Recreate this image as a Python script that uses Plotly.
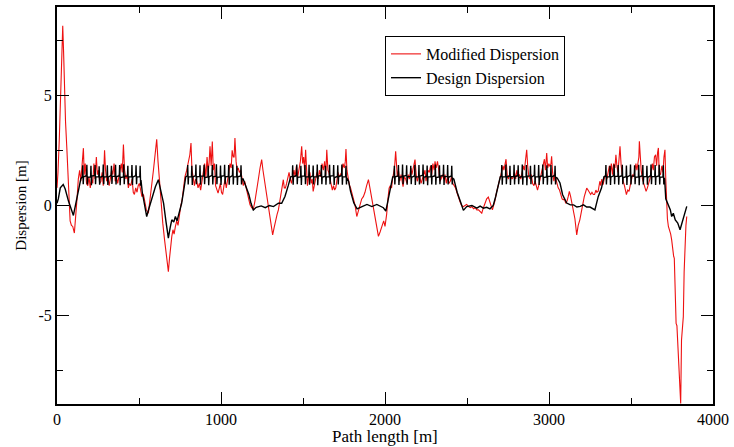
import plotly.graph_objects as go

# ---------------- Data ----------------
# Design dispersion (black), by lattice section
design_straight_a_s = [0, 8, 20, 38, 50, 70, 100, 115, 131, 145]
design_straight_a_d = [0.1, 0.3, 0.8, 0.95, 0.75, 0.2, -0.45, 0.1, 0.65, 1.2]

design_arc1_s = [155, 157, 160, 162, 180, 182, 185, 187, 205, 207, 210, 212, 230, 232, 235, 237,
                 255, 257, 260, 262, 280, 282, 285, 287, 305, 307, 310, 312, 330, 332, 335, 337,
                 355, 357, 360, 362, 380, 382, 385, 387, 405, 407, 410, 412, 430, 432, 435, 437,
                 455, 457, 460, 462, 480, 482, 485, 487, 505, 507, 510, 512]
design_arc1_d = [1.32, 1.82, 0.96, 1.30, 1.35, 1.85, 0.95, 1.28, 1.30, 1.80, 0.92, 1.33, 1.36, 1.84, 0.97, 1.30,
                 1.31, 1.78, 0.94, 1.27, 1.34, 1.86, 0.96, 1.30, 1.30, 1.82, 0.93, 1.28, 1.37, 1.80, 0.98, 1.32,
                 1.33, 1.85, 0.95, 1.30, 1.35, 1.83, 0.92, 1.27, 1.30, 1.87, 0.96, 1.33, 1.34, 1.80, 0.95, 1.30,
                 1.31, 1.84, 0.93, 1.28, 1.36, 1.82, 0.97, 1.30, 1.30, 1.80, 0.90, 1.15]

design_straight_b_s = [520, 535, 547, 560, 580, 600, 618, 632, 650, 665, 679, 690, 700, 712, 722, 732, 745, 760, 775, 785]
design_straight_b_d = [0.6, 0.0, -0.5, -0.15, 0.4, 0.85, 1.17, 0.7, 0.1, -0.75, -1.48, -1.0, -0.65, -0.75, -0.5, -0.7, -0.3, 0.1, 0.8, 1.3]

design_arc2_s = [795, 797, 800, 802, 820, 822, 825, 827, 845, 847, 850, 852, 870, 872, 875, 877,
                 895, 897, 900, 902, 920, 922, 925, 927, 945, 947, 950, 952, 970, 972, 975, 977,
                 995, 997, 1000, 1002, 1020, 1022, 1025, 1027, 1045, 1047, 1050, 1052, 1070, 1072, 1075, 1077,
                 1095, 1097, 1100, 1102, 1120, 1122, 1125, 1127]
design_arc2_d = [1.35, 1.84, 0.95, 1.30, 1.31, 1.80, 0.93, 1.28, 1.36, 1.86, 0.96, 1.30, 1.32, 1.82, 0.94, 1.33,
                 1.34, 1.85, 0.97, 1.27, 1.30, 1.80, 0.92, 1.30, 1.37, 1.84, 0.95, 1.30, 1.33, 1.87, 0.96, 1.28,
                 1.30, 1.81, 0.93, 1.32, 1.35, 1.85, 0.96, 1.30, 1.32, 1.83, 0.94, 1.27, 1.36, 1.86, 0.95, 1.30,
                 1.31, 1.80, 0.93, 1.30, 1.34, 1.82, 0.95, 1.20]

design_straight_c_s = [1135, 1150, 1170, 1183, 1197, 1215, 1245, 1270, 1295, 1320, 1350, 1370, 1390, 1410, 1425]
design_straight_c_d = [1.2, 0.87, 0.5, 0.1, -0.2, -0.08, -0.02, -0.1, 0.0, -0.05, 0.1, 0.1, 0.41, 0.9, 1.3]

design_arc3_s = [1435, 1437, 1440, 1442, 1460, 1462, 1465, 1467, 1485, 1487, 1490, 1492, 1510, 1512, 1515, 1517,
                 1535, 1537, 1540, 1542, 1560, 1562, 1565, 1567, 1585, 1587, 1590, 1592, 1610, 1612, 1615, 1617,
                 1635, 1637, 1640, 1642, 1660, 1662, 1665, 1667, 1685, 1687, 1690, 1692, 1710, 1712, 1715, 1717,
                 1735, 1737, 1740, 1742, 1760, 1762, 1765, 1767]
design_arc3_d = [1.32, 1.82, 0.94, 1.30, 1.36, 1.86, 0.96, 1.28, 1.30, 1.80, 0.93, 1.33, 1.34, 1.84, 0.97, 1.30,
                 1.31, 1.85, 0.94, 1.27, 1.35, 1.81, 0.95, 1.30, 1.30, 1.86, 0.92, 1.32, 1.37, 1.83, 0.96, 1.28,
                 1.33, 1.80, 0.94, 1.30, 1.30, 1.85, 0.97, 1.33, 1.35, 1.84, 0.93, 1.27, 1.32, 1.82, 0.95, 1.30,
                 1.36, 1.86, 0.94, 1.30, 1.31, 1.80, 0.95, 1.25]

design_straight_d_s = [1778, 1790, 1810, 1830, 1860, 1890, 1920, 1950, 1990, 2005, 2015, 2035, 2047]
design_straight_d_d = [1.1, 0.64, 0.11, -0.15, -0.05, 0.05, -0.05, 0.05, -0.1, -0.25, 0.11, 0.87, 1.3]

design_arc4_s = [2055, 2057, 2060, 2062, 2080, 2082, 2085, 2087, 2105, 2107, 2110, 2112, 2130, 2132, 2135, 2137,
                 2155, 2157, 2160, 2162, 2180, 2182, 2185, 2187, 2205, 2207, 2210, 2212, 2230, 2232, 2235, 2237,
                 2255, 2257, 2260, 2262, 2280, 2282, 2285, 2287, 2305, 2307, 2310, 2312, 2330, 2332, 2335, 2337,
                 2355, 2357, 2360, 2362, 2380, 2382, 2385, 2387, 2405, 2407, 2410, 2412]
design_arc4_d = [1.30, 1.80, 0.95, 1.30, 1.34, 1.84, 0.93, 1.28, 1.31, 1.86, 0.96, 1.32, 1.36, 1.82, 0.94, 1.30,
                 1.32, 1.80, 0.97, 1.27, 1.35, 1.85, 0.93, 1.30, 1.30, 1.83, 0.95, 1.33, 1.37, 1.86, 0.96, 1.28,
                 1.33, 1.81, 0.92, 1.30, 1.31, 1.84, 0.95, 1.30, 1.35, 1.86, 0.94, 1.27, 1.30, 1.82, 0.96, 1.32,
                 1.36, 1.85, 0.93, 1.30, 1.32, 1.83, 0.95, 1.28, 1.34, 1.80, 0.95, 1.25]

design_straight_e_s = [2420, 2440, 2463, 2478, 2498, 2530, 2560, 2580, 2600, 2620, 2640, 2660, 2675, 2690, 2703]
design_straight_e_d = [1.2, 0.6, 0.11, -0.22, -0.05, 0.0, -0.12, -0.03, -0.12, -0.08, -0.15, 0.0, 0.41, 0.87, 1.3]

design_arc5_s = [2710, 2712, 2715, 2717, 2735, 2737, 2740, 2742, 2760, 2762, 2765, 2767, 2785, 2787, 2790, 2792,
                 2810, 2812, 2815, 2817, 2835, 2837, 2840, 2842, 2860, 2862, 2865, 2867, 2885, 2887, 2890, 2892,
                 2910, 2912, 2915, 2917, 2935, 2937, 2940, 2942, 2960, 2962, 2965, 2967, 2985, 2987, 2990, 2992,
                 3010, 3012, 3015, 3017, 3035, 3037, 3040, 3042]
design_arc5_d = [1.33, 1.83, 0.94, 1.30, 1.30, 1.86, 0.96, 1.28, 1.35, 1.80, 0.93, 1.32, 1.31, 1.85, 0.95, 1.30,
                 1.36, 1.82, 0.97, 1.27, 1.32, 1.86, 0.94, 1.30, 1.30, 1.84, 0.92, 1.33, 1.34, 1.80, 0.96, 1.28,
                 1.37, 1.85, 0.95, 1.30, 1.31, 1.83, 0.93, 1.30, 1.35, 1.86, 0.96, 1.27, 1.30, 1.82, 0.94, 1.32,
                 1.33, 1.84, 0.95, 1.30, 1.36, 1.80, 0.95, 1.28]

design_straight_f_s = [3050, 3067, 3083, 3108, 3130, 3150, 3170, 3190, 3210, 3230, 3250, 3280, 3300, 3320, 3335]
design_straight_f_d = [1.25, 1.02, 0.49, 0.11, 0.03, 0.03, -0.07, -0.04, 0.03, -0.07, -0.07, -0.2, 0.4, 0.79, 1.3]

design_arc6_s = [3345, 3347, 3350, 3352, 3370, 3372, 3375, 3377, 3395, 3397, 3400, 3402, 3420, 3422, 3425, 3427,
                 3445, 3447, 3450, 3452, 3470, 3472, 3475, 3477, 3495, 3497, 3500, 3502, 3520, 3522, 3525, 3527,
                 3545, 3547, 3550, 3552, 3570, 3572, 3575, 3577, 3595, 3597, 3600, 3602, 3620, 3622, 3625, 3627,
                 3645, 3647, 3650, 3652, 3670, 3672, 3675, 3677, 3695, 3697, 3700, 3702]
design_arc6_d = [1.34, 1.84, 0.95, 1.30, 1.30, 1.80, 0.93, 1.28, 1.36, 1.86, 0.96, 1.32, 1.32, 1.83, 0.94, 1.30,
                 1.35, 1.85, 0.97, 1.27, 1.31, 1.81, 0.93, 1.30, 1.37, 1.86, 0.95, 1.33, 1.33, 1.82, 0.96, 1.28,
                 1.30, 1.85, 0.92, 1.30, 1.35, 1.84, 0.95, 1.30, 1.32, 1.80, 0.94, 1.27, 1.36, 1.86, 0.96, 1.32,
                 1.31, 1.83, 0.93, 1.30, 1.34, 1.85, 0.95, 1.28, 1.30, 1.82, 0.95, 1.25]

design_straight_g_s = [3705, 3712, 3725, 3740, 3748, 3758, 3770, 3785, 3799, 3810, 3825, 3840]
design_straight_g_d = [1.2, 0.3, 0.1, -0.2, -0.5, -0.35, -0.65, -0.8, -1.1, -0.8, -0.4, -0.04]

# Modified dispersion (red)
modified_s = [
    0, 6, 14, 22, 30, 35, 40, 45, 52, 60,
    66, 72, 80, 88, 96, 106, 114, 122, 130, 138,
    145, 152, 161, 166, 172, 180, 188, 195, 203, 210,
    218, 225, 232, 240, 246, 253, 260, 268, 275, 282,
    290, 296, 303, 310, 318, 325, 333, 340, 348, 355,
    362, 370, 378, 385, 392, 398, 405, 412, 420, 428,
    435, 442, 450, 458, 465, 472, 480, 488, 495, 502,
    510, 518, 527, 535, 545, 557, 567, 578, 588, 598,
    608, 616, 625, 635, 645, 655, 665, 672, 679, 686,
    693, 700, 707, 714, 722, 730, 738, 746, 755, 763,
    772, 780, 791, 800, 810, 817, 823, 830, 838, 845,
    852, 860, 868, 876, 884, 892, 900, 908, 915, 922,
    928, 933, 940, 947, 953, 960, 967, 975, 982, 990,
    996, 1003, 1010, 1018, 1025, 1032, 1040, 1048, 1055, 1062,
    1068, 1075, 1080, 1085, 1092, 1098, 1105, 1112, 1120, 1128,
    1136, 1144, 1152, 1160, 1168, 1177, 1187, 1197, 1207, 1217,
    1228, 1238, 1248, 1256, 1264, 1272, 1280, 1288, 1297, 1306,
    1315, 1324, 1333, 1342, 1350, 1358, 1366, 1374, 1380, 1386,
    1393, 1400, 1408, 1415, 1422, 1430, 1437, 1445, 1452, 1460,
    1468, 1476, 1484, 1492, 1498, 1504, 1510, 1516, 1522, 1527,
    1534, 1542, 1550, 1556, 1562, 1570, 1578, 1585, 1592, 1600,
    1608, 1616, 1624, 1632, 1639, 1645, 1652, 1658, 1665, 1672,
    1679, 1686, 1693, 1700, 1708, 1714, 1720, 1728, 1736, 1744,
    1752, 1758, 1762, 1768, 1775, 1782, 1790, 1800, 1810, 1817,
    1828, 1838, 1848, 1858, 1868, 1878, 1888, 1899, 1908, 1918,
    1928, 1938, 1948, 1960, 1970, 1982, 1992, 2000, 2010, 2018,
    2025, 2032, 2040, 2046, 2052, 2058, 2065, 2070, 2075, 2082,
    2090, 2098, 2104, 2110, 2118, 2126, 2134, 2142, 2150, 2158,
    2164, 2170, 2176, 2183, 2190, 2197, 2204, 2212, 2220, 2228,
    2236, 2244, 2250, 2256, 2262, 2270, 2278, 2285, 2292, 2300,
    2305, 2312, 2320, 2328, 2335, 2342, 2350, 2358, 2366, 2374,
    2382, 2390, 2398, 2406, 2414, 2422, 2430, 2438, 2446, 2457,
    2467, 2478, 2488, 2498, 2510, 2520, 2530, 2540, 2550, 2560,
    2570, 2580, 2590, 2600, 2610, 2620, 2630, 2640, 2648, 2655,
    2662, 2670, 2680, 2690, 2700, 2712, 2720, 2725, 2732, 2738,
    2745, 2752, 2760, 2768, 2775, 2782, 2790, 2797, 2804, 2812,
    2820, 2828, 2836, 2844, 2850, 2857, 2864, 2870, 2877, 2885,
    2892, 2900, 2908, 2915, 2922, 2930, 2937, 2945, 2952, 2960,
    2966, 2972, 2978, 2986, 2992, 2999, 3006, 3012, 3016, 3022,
    3030, 3036, 3042, 3048, 3056, 3064, 3072, 3080, 3087, 3094,
    3102, 3110, 3117, 3124, 3132, 3140, 3148, 3158, 3169, 3178,
    3188, 3198, 3207, 3215, 3223, 3230, 3238, 3246, 3254, 3262,
    3270, 3278, 3286, 3292, 3300, 3310, 3316, 3322, 3330, 3338,
    3346, 3353, 3360, 3368, 3374, 3380, 3387, 3394, 3402, 3408,
    3414, 3420, 3427, 3433, 3440, 3446, 3452, 3460, 3466, 3472,
    3480, 3488, 3495, 3502, 3510, 3517, 3524, 3530, 3536, 3543,
    3548, 3551, 3556, 3562, 3570, 3578, 3585, 3592, 3600, 3608,
    3615, 3622, 3630, 3636, 3643, 3650, 3656, 3662, 3667, 3672,
    3680, 3688, 3695, 3701, 3707, 3712, 3716, 3722, 3728, 3735,
    3742, 3748, 3752, 3756, 3760, 3764, 3769, 3775, 3780, 3786,
    3792, 3796, 3803, 3808, 3812, 3819, 3824, 3829, 3835, 3840,
]
modified_d = [
    0.8, 1.5, 3.0, 5.5, 7.6, 8.15, 7.0, 5.2, 3.8, 2.6,
    1.5, 0.2, -0.7, -0.9, -0.95, -1.25, -0.6, 0.3, 1.2, 1.6,
    1.1, 1.8, 2.6, 1.4, 1.9, 1.0, 0.9, 1.3, 0.8, 1.2,
    1.0, 1.9, 1.2, 2.2, 1.4, 1.6, 1.0, 1.1, 1.5, 0.9,
    2.5, 1.6, 1.1, 1.3, 0.9, 1.2, 1.6, 1.4, 1.9, 1.1,
    1.3, 1.0, 1.4, 1.7, 1.9, 1.5, 2.76, 1.6, 1.2, 1.4,
    0.8, 1.0, 0.9, 1.2, 0.6, 0.5, 0.8, 0.6, 0.9, 1.0,
    0.7, 0.4, 0.5, 0.1, -0.2, -0.35, 0.2, 0.8, 1.6, 2.3,
    3.0, 2.0, 1.0, 0.0, -0.8, -1.5, -2.2, -2.6, -3.0, -2.4,
    -1.8, -1.4, -1.1, -1.3, -0.95, -0.7, -0.9, -0.4, 0.0, 0.26,
    0.9, 1.3, 1.6, 2.0, 2.3, 2.83, 1.6, 1.3, 0.9, 1.2,
    1.1, 0.8, 1.0, 0.7, 1.2, 1.5, 1.9, 1.3, 2.2, 1.5,
    2.0, 2.68, 1.8, 2.9, 1.6, 1.9, 0.9, 0.7, 0.56, 0.8,
    1.0, 0.6, 0.5, 0.9, 1.2, 0.8, 1.1, 1.5, 1.9, 1.7,
    2.5, 2.2, 2.2, 3.06, 2.0, 1.6, 1.7, 1.5, 1.6, 1.2,
    0.9, 1.1, 0.8, 0.5, 0.2, 0.03, -0.1, -0.17, 0.2, 0.6,
    1.2, 1.7, 2.08, 1.6, 1.2, 0.9, 0.5, 0.03, -0.4, -0.9,
    -1.33, -1.0, -0.6, -0.4, -0.2, 0.2, 0.6, 0.9, 1.17, 0.8,
    0.8, 1.0, 1.3, 1.5, 1.2, 1.0, 1.3, 1.6, 1.3, 1.8,
    1.3, 1.6, 2.0, 2.68, 1.9, 2.2, 1.6, 2.53, 1.6, 0.9,
    1.3, 1.5, 1.0, 1.2, 0.64, 1.0, 1.3, 1.5, 1.2, 1.6,
    1.3, 1.9, 1.6, 2.0, 1.4, 2.53, 1.6, 1.5, 1.2, 0.9,
    0.7, 0.9, 0.7, 0.8, 1.1, 1.5, 1.3, 1.4, 1.5, 1.9,
    1.7, 2.0, 2.56, 1.6, 1.2, 0.95, 0.8, 0.5, 0.2, 0.03,
    -0.5, -0.2, 0.0, 0.3, 0.4, 0.6, 0.9, 1.17, 0.8, 0.4,
    0.0, -0.4, -0.9, -1.4, -1.2, -0.9, -0.7, -0.95, -0.4, 0.3,
    0.79, 0.9, 0.8, 1.2, 1.5, 1.7, 2.46, 1.8, 1.3, 1.6,
    1.1, 1.4, 1.0, 0.85, 1.3, 1.2, 1.0, 1.4, 1.2, 1.7,
    1.4, 1.6, 1.9, 2.08, 1.4, 1.1, 1.3, 1.3, 1.0, 1.2,
    1.4, 1.6, 1.1, 1.3, 1.6, 1.5, 1.8, 1.4, 1.9, 1.6,
    2.0, 1.7, 2.0, 1.6, 1.1, 1.2, 1.4, 1.2, 1.4, 1.0,
    1.3, 1.0, 1.1, 1.3, 1.0, 0.9, 0.8, 0.6, 0.4, 0.18,
    0.0, -0.05, 0.0, 0.05, -0.05, -0.1, -0.05, -0.15, -0.1, -0.2,
    -0.2, -0.3, -0.35, -0.1, 0.1, 0.3, 0.38, 0.1, -0.1, -0.2,
    0.0, 0.2, 0.6, 0.9, 1.2, 1.47, 1.8, 1.6, 1.8, 2.1,
    1.4, 1.2, 1.4, 1.3, 1.2, 1.3, 1.5, 1.2, 1.6, 1.3,
    1.4, 1.2, 1.5, 1.8, 1.6, 2.0, 2.53, 1.8, 1.3, 1.2,
    1.4, 1.0, 0.9, 1.1, 0.85, 0.7, 0.9, 1.2, 1.4, 1.6,
    1.9, 2.1, 1.6, 2.38, 1.7, 1.9, 1.77, 1.9, 2.23, 1.5,
    1.1, 1.4, 1.2, 1.0, 0.8, 0.7, 0.5, 0.3, 0.26, 0.3,
    0.1, 0.2, 0.4, 0.64, 0.4, 0.1, -0.2, -0.6, -1.33, -0.9,
    -0.65, -0.2, 0.1, 0.4, 0.6, 0.79, 0.7, 0.6, 0.5, 0.6,
    0.5, 0.5, 0.7, 0.6, 0.65, 1.1, 0.9, 1.2, 0.95, 1.25,
    1.4, 1.2, 1.6, 1.8, 1.5, 1.9, 1.4, 1.9, 1.7, 2.3,
    1.8, 1.5, 2.1, 2.68, 1.8, 1.4, 1.1, 0.9, 0.6, 0.49,
    0.7, 0.64, 0.9, 1.1, 1.4, 1.3, 1.6, 1.9, 1.6, 2.0,
    2.2, 2.91, 1.9, 1.6, 1.2, 1.0, 0.9, 0.64, 0.8, 1.0,
    1.2, 1.5, 1.9, 1.6, 2.2, 2.3, 1.8, 2.4, 2.61, 1.5,
    1.4, 1.8, 1.5, 2.2, 2.53, 1.2, -0.04, -0.6, -0.95, -1.1,
    -1.3, -1.56, -1.86, -2.16, -2.3, -2.4, -4.0, -5.35, -5.45, -6.4,
    -7.0, -7.5, -8.98, -6.1, -5.7, -5.04, -3.0, -1.56, -0.9, -0.5,
]

x_tick_vals = [0, 1000, 2000, 3000, 4000]
x_tick_text = ["0", "1000", "2000", "3000", "4000"]
y_tick_vals = [-5, 0, 5]
y_tick_text = ["-5", "0", "5"]
x_title = "Path length [m]"
y_title = "Dispersion [m]"

design_sections = [
    (design_straight_a_s, design_straight_a_d), (design_arc1_s, design_arc1_d),
    (design_straight_b_s, design_straight_b_d), (design_arc2_s, design_arc2_d),
    (design_straight_c_s, design_straight_c_d), (design_arc3_s, design_arc3_d),
    (design_straight_d_s, design_straight_d_d), (design_arc4_s, design_arc4_d),
    (design_straight_e_s, design_straight_e_d), (design_arc5_s, design_arc5_d),
    (design_straight_f_s, design_straight_f_d), (design_arc6_s, design_arc6_d),
    (design_straight_g_s, design_straight_g_d),
]
design_s, design_d = [], []
for s_part, d_part in design_sections:
    assert len(s_part) == len(d_part)
    design_s += s_part
    design_d += d_part
assert len(modified_s) == len(modified_d)

FONT = "Liberation Serif, Times New Roman, serif"

fig = go.Figure()
fig.add_trace(go.Scatter(
    x=modified_s, y=modified_d, mode="lines", name="Modified Dispersion",
    line=dict(color="#ee1111", width=1.1),
))
fig.add_trace(go.Scatter(
    x=design_s, y=design_d, mode="lines", name="Design Dispersion",
    line=dict(color="#000000", width=1.4),
))

axis_common = dict(
    showline=True, linecolor="black", linewidth=2, mirror="allticks",
    ticks="inside", ticklen=12, tickwidth=1.3, tickcolor="black",
    showgrid=False, zeroline=False, automargin=False,
    tickfont=dict(family=FONT, size=16, color="black"),
)

fig.update_xaxes(
    range=[0, 4000], tickvals=x_tick_vals, ticktext=x_tick_text,
    minor=dict(ticks="inside", ticklen=6, tickwidth=1.3, tickcolor="black",
               dtick=500, tick0=0, showgrid=False),
    **axis_common,
)
fig.update_yaxes(
    range=[-9, 9], tickvals=y_tick_vals, ticktext=y_tick_text,
    minor=dict(ticks="inside", ticklen=6, tickwidth=1.3, tickcolor="black",
               dtick=2.5, tick0=0, showgrid=False),
    title=dict(text=y_title, font=dict(family=FONT, size=15, color="black"), standoff=8),
    **axis_common,
)

# x-axis title as an annotation so it sits just under the tick labels
fig.add_annotation(
    text=x_title, xref="paper", yref="paper", x=0.5, y=-0.081,
    xanchor="center", yanchor="middle", showarrow=False,
    font=dict(family=FONT, size=17, color="black"),
)

fig.update_layout(
    width=734, height=447,
    margin=dict(l=57, r=21, t=7, b=43),
    paper_bgcolor="white", plot_bgcolor="white",
    font=dict(family=FONT, color="black"),
    showlegend=True,
    legend=dict(
        x=0.5, y=0.927, xanchor="left", yanchor="top",
        bgcolor="white", bordercolor="black", borderwidth=1,
        font=dict(family=FONT, size=16, color="black"),
        itemwidth=30, tracegroupgap=0,
    ),
)

fig.write_html(
    "out.html",
    config={"displayModeBar": False},
    post_script="document.body.style.margin='0';document.body.style.padding='0';",
)
